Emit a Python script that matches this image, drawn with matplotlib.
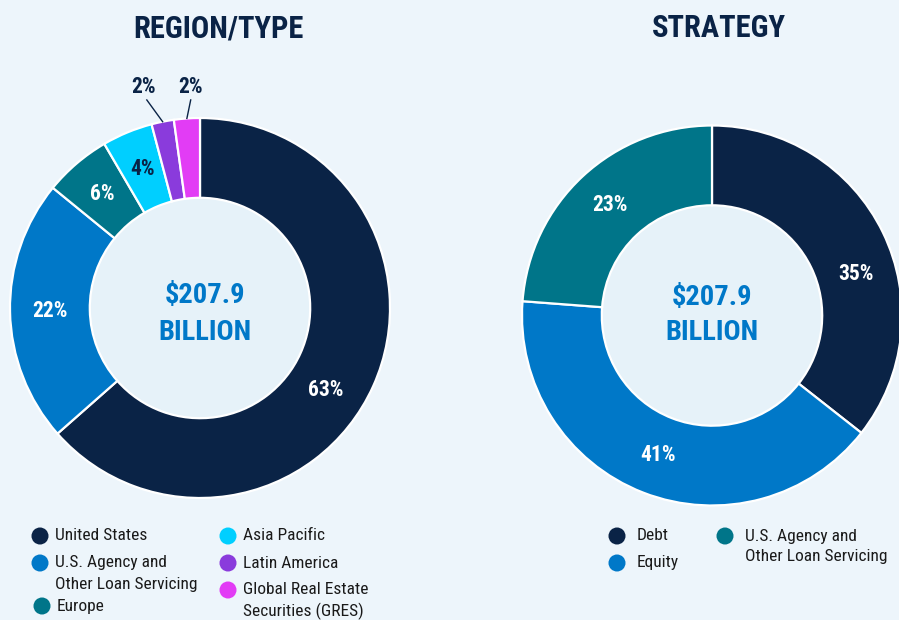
import numpy as np
import matplotlib
matplotlib.use("Agg")
import matplotlib.pyplot as plt
from matplotlib import font_manager
from matplotlib.patches import Circle

# ---------------- data ----------------
region_labels = ["United States", "U.S. Agency and\nOther Loan Servicing", "Europe",
                 "Asia Pacific", "Latin America", "Global Real Estate\nSecurities (GRES)"]
region_values = [63.5, 22.4, 5.7, 4.3, 1.9, 2.2]
region_pct = ["63%", "22%", "6%", "4%", "2%", "2%"]

strategy_labels = ["Debt", "Equity", "U.S. Agency and\nOther Loan Servicing"]
strategy_values = [35.6, 40.6, 23.8]
strategy_pct = ["35%", "41%", "23%"]

total_text = ["$207.9", "BILLION"]
titles = ["REGION/TYPE", "STRATEGY"]

# ---------------- style ----------------
NAVY = "#0a2346"
BLUE = "#0078c8"
TEAL = "#007589"
CYAN = "#00cfff"
PURPLE = "#8a3bdc"
MAGENTA = "#e23cf5"
region_colors = [NAVY, BLUE, TEAL, CYAN, PURPLE, MAGENTA]
strategy_colors = [NAVY, BLUE, TEAL]
BG = "#edf5fb"
HOLE = "#e6f2f9"

names = {f.name for f in font_manager.fontManager.ttflist}
def pick(cands):
    for c in cands:
        if c in names:
            return c
    return "DejaVu Sans"

NARROW = pick(["Liberation Sans Narrow", "Roboto Condensed", "DejaVu Sans Condensed", "Liberation Sans"])
REG = NARROW

W, H = 899, 620
fig = plt.figure(figsize=(W / 100, H / 100), dpi=100, facecolor=BG)

RING = 0.42
HOLE_R = 1 - RING
OUT_Y = 1.163      # baseline row of outside labels (axes units)


def pie_axes(cx, cy, r):
    ax = fig.add_axes([(cx - r) / W, 1 - (cy + r) / H, 2 * r / W, 2 * r / H])
    ax.set_axis_off()
    return ax


def draw_donut(ax, values, colors, pct, angle_shift, outside):
    wedges, _ = ax.pie(values, colors=colors, startangle=90, counterclock=False,
                       radius=1, wedgeprops=dict(width=RING, edgecolor="white", linewidth=1.6))
    ax.add_patch(Circle((0, 0), HOLE_R, facecolor=HOLE, edgecolor="none", zorder=0))
    ax.set_xlim(-1, 1)
    ax.set_ylim(-1, 1)
    for i, (w, lab) in enumerate(zip(wedges, pct)):
        mid = 0.5 * (w.theta1 + w.theta2)
        if i in outside:
            la = np.deg2rad(mid + outside[i])
            lx = OUT_Y / np.tan(la)
            ax.text(lx, OUT_Y, lab, ha="center", va="center", color=NAVY,
                    fontsize=15.5, fontweight="bold", family=NARROW, clip_on=False)
            m = np.deg2rad(mid)
            y0 = 1.095
            ax.plot([y0 / np.tan(la), np.cos(m)], [y0, np.sin(m)],
                    color=NAVY, lw=1.0, clip_on=False)
        else:
            a = np.deg2rad(mid + angle_shift.get(i, 0))
            r = 0.79
            col = NAVY if colors[i] == CYAN else "white"
            ax.text(r * np.cos(a), r * np.sin(a), lab, ha="center", va="center", color=col,
                    fontsize=15.5, fontweight="bold", family=NARROW)
    return wedges


ax1 = pie_axes(200, 308, 190)
draw_donut(ax1, region_values, region_colors, region_pct, {0: -9}, {4: 3, 5: -1.4})
ax2 = pie_axes(712, 315.5, 190)
draw_donut(ax2, strategy_values, strategy_colors, strategy_pct, {0: -10}, {})

# overlay for texts in pixel coords
ov = fig.add_axes([0, 0, 1, 1], facecolor="none")
ov.set_xlim(0, W)
ov.set_ylim(H, 0)
ov.set_axis_off()

ov.text(218, 28, titles[0], ha="center", va="center", color=NAVY, fontsize=22,
        fontweight="bold", family=NARROW)
ov.text(719, 28, titles[1], ha="center", va="center", color=NAVY, fontsize=22,
        fontweight="bold", family=NARROW)

for cx, y1, y2 in [(205, 296, 333), (712, 297, 333)]:
    ov.text(cx, y1, total_text[0], ha="center", va="center", color=BLUE, fontsize=20.5,
            fontweight="bold", family=NARROW)
    ov.text(cx, y2, total_text[1], ha="center", va="center", color=BLUE, fontsize=20.5,
            fontweight="bold", family=NARROW)

# legends
left_pos = [(40, 536), (40, 563), (42, 606), (228, 536), (228, 563), (228, 590)]
right_pos = [(617, 536), (617, 563), (725, 536)]
LINE = 21


def legend(labels, colors, pos, dx):
    for lab, col, (x, y) in zip(labels, colors, pos):
        ov.scatter([x], [y], s=150, color=col, edgecolors="none")
        for k, line in enumerate(lab.split("\n")):
            ov.text(x + dx, y + k * LINE, line, ha="left", va="center", color="#1a1a1a",
                    fontsize=12.5, family=REG)


legend(region_labels, region_colors, left_pos, 15)
legend(strategy_labels, strategy_colors, right_pos, 20)

fig.savefig("out.png", dpi=100, facecolor=BG)
